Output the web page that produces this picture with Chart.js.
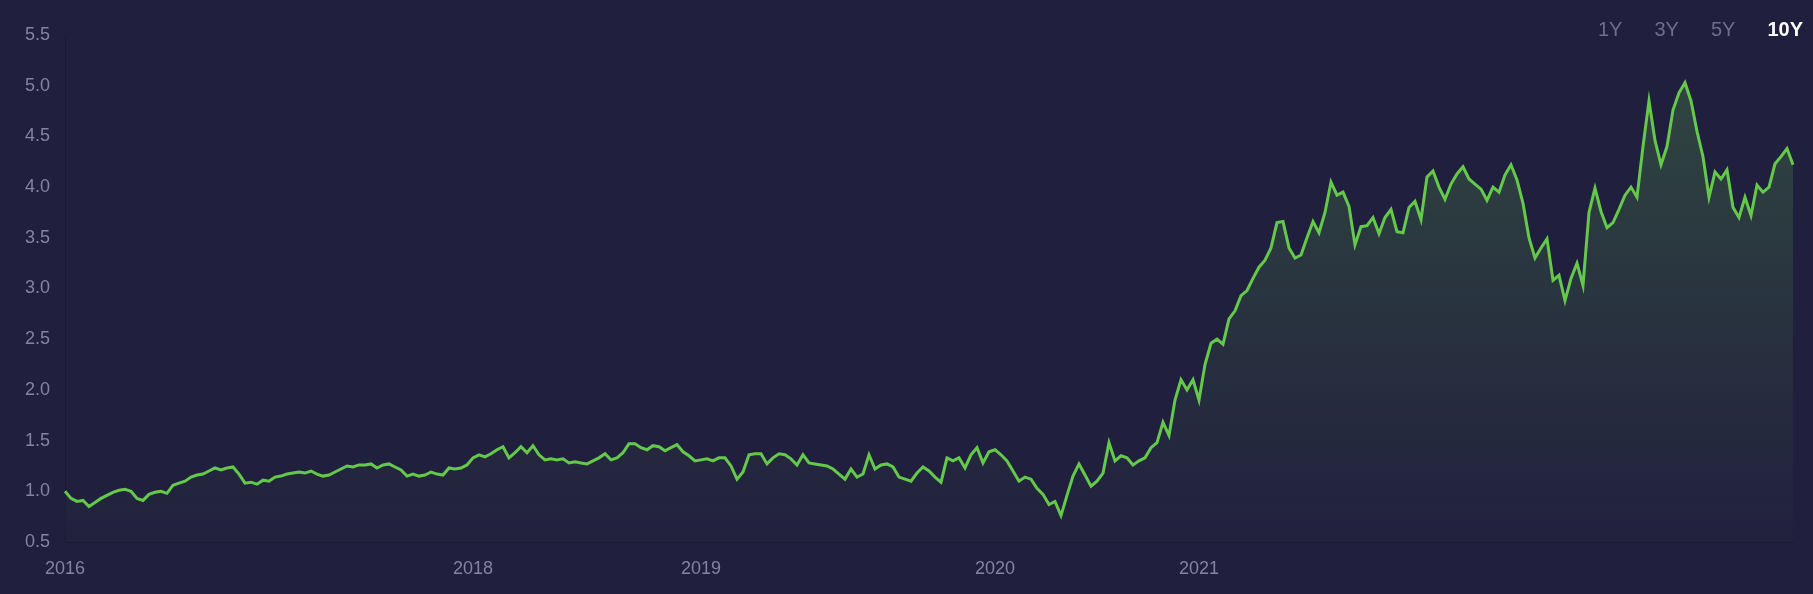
<!DOCTYPE html>
<html>
<head>
<meta charset="utf-8">
<script src="https://cdn.jsdelivr.net/npm/chart.js@4.4.1/dist/chart.umd.min.js"></script>
<style>
  html, body { margin: 0; padding: 0; background: #211f3e; }
  #wrap { position: relative; width: 1813px; height: 594px; }
  #range {
    position: absolute; top: 17px; right: 10px;
    display: flex; gap: 32px;
    font-family: "Liberation Sans", Arial, sans-serif; font-size: 20px; line-height: 24px;
    color: #6f6d8c;
  }
  #range .on { color: #ffffff; font-weight: bold; }
</style>
</head>
<body>
<div id="wrap">
  <canvas id="chart" width="1813" height="594"></canvas>
  <div id="range"><span>1Y</span><span>3Y</span><span>5Y</span><span class="on">10Y</span></div>
</div>
<script>
// Year tick labels and the data point where each one sits
const yearLabels = ['2016', '2018', '2019', '2020', '2021'];
const yearIndex = [0, 68, 106, 155, 189];

// Value series, oldest first
const values = [
  1.00, 0.93, 0.90, 0.91, 0.85, 0.89, 0.93, 0.96, 0.99, 1.01,
  1.02, 1.00, 0.93, 0.91, 0.97, 0.99, 1.00, 0.98, 1.06, 1.08,
  1.10, 1.14, 1.16, 1.17, 1.20, 1.23, 1.21, 1.23, 1.24, 1.17,
  1.08, 1.09, 1.07, 1.11, 1.10, 1.14, 1.15, 1.17, 1.18, 1.19,
  1.18, 1.20, 1.17, 1.15, 1.16, 1.19, 1.22, 1.25, 1.24, 1.26,
  1.26, 1.27, 1.23, 1.26, 1.27, 1.24, 1.21, 1.15, 1.17, 1.15,
  1.16, 1.19, 1.17, 1.16, 1.23, 1.22, 1.23, 1.26, 1.33, 1.36,
  1.34, 1.37, 1.41, 1.44, 1.33, 1.38, 1.44, 1.38, 1.45, 1.36,
  1.31, 1.32, 1.31, 1.32, 1.28, 1.29, 1.28, 1.27, 1.30, 1.33,
  1.37, 1.31, 1.33, 1.38, 1.47, 1.47, 1.43, 1.41, 1.45, 1.44,
  1.40, 1.43, 1.46, 1.39, 1.35, 1.30, 1.31, 1.32, 1.30, 1.33,
  1.33, 1.25, 1.12, 1.19, 1.36, 1.37, 1.37, 1.27, 1.33, 1.37,
  1.36, 1.32, 1.26, 1.36, 1.28, 1.27, 1.26, 1.25, 1.22, 1.17,
  1.12, 1.22, 1.14, 1.17, 1.36, 1.22, 1.26, 1.27, 1.24, 1.14,
  1.12, 1.10, 1.18, 1.24, 1.20, 1.14, 1.09, 1.33, 1.30, 1.33,
  1.23, 1.36, 1.43, 1.28, 1.39, 1.41, 1.36, 1.30, 1.20, 1.10,
  1.14, 1.12, 1.03, 0.97, 0.87, 0.90, 0.76, 0.96, 1.15, 1.27,
  1.16, 1.05, 1.10, 1.18, 1.48, 1.30, 1.35, 1.33, 1.26, 1.30,
  1.33, 1.43, 1.48, 1.68, 1.55, 1.90, 2.10, 2.00, 2.10, 1.90,
  2.25, 2.46, 2.50, 2.45, 2.70, 2.78, 2.93, 2.98, 3.10, 3.21,
  3.28, 3.40, 3.65, 3.66, 3.40, 3.30, 3.33, 3.50, 3.66, 3.55,
  3.75, 4.05, 3.92, 3.95, 3.81, 3.43, 3.61, 3.62, 3.70, 3.54,
  3.70, 3.78, 3.56, 3.55, 3.80, 3.86, 3.68, 4.10, 4.16, 4.00,
  3.88, 4.03, 4.13, 4.20, 4.08, 4.03, 3.98, 3.87, 4.00, 3.95,
  4.12, 4.22, 4.07, 3.84, 3.50, 3.30, 3.40, 3.49, 3.08, 3.13,
  2.88, 3.10, 3.25, 3.03, 3.75, 3.99, 3.76, 3.60, 3.65, 3.78,
  3.92, 4.00, 3.90, 4.40, 4.85, 4.46, 4.22, 4.40, 4.76, 4.93,
  5.03, 4.85, 4.55, 4.30, 3.90, 4.15, 4.08, 4.17, 3.80, 3.70,
  3.90, 3.72, 4.02, 3.95, 4.00, 4.23, 4.30, 4.38, 4.22
];

const labels = values.map((_, i) => {
  const k = yearIndex.indexOf(i);
  return k >= 0 ? yearLabels[k] : '';
});

const tickFont = { family: '"Liberation Sans", Arial, sans-serif', size: 18 };
const tickColor = '#85839f';
const axisColor = '#1a1833';

const ctx = document.getElementById('chart').getContext('2d');
new Chart(ctx, {
  type: 'line',
  data: {
    labels: labels,
    datasets: [{
      data: values,
      borderColor: '#64c94b',
      borderWidth: 3,
      pointRadius: 0,
      tension: 0,
      fill: 'start',
      backgroundColor: (c) => {
        const area = c.chart.chartArea;
        if (!area) return 'rgba(98,199,74,0.1)';
        const g = c.chart.ctx.createLinearGradient(0, area.top, 0, area.bottom);
        g.addColorStop(0, 'rgba(98,199,74,0.25)');
        g.addColorStop(1, 'rgba(98,199,74,0.01)');
        return g;
      }
    }]
  },
  options: {
    responsive: false,
    animation: false,
    layout: { padding: { top: 35, right: 20, left: 0, bottom: 0 } },
    plugins: { legend: { display: false }, tooltip: { enabled: false } },
    scales: {
      x: {
        grid: { display: false, drawTicks: false },
        border: { display: true, color: axisColor },
        ticks: {
          autoSkip: false, maxRotation: 0, padding: 16,
          color: tickColor, font: tickFont,
          callback: function (v, i) { return labels[i] || null; }
        },
        afterFit: (axis) => { axis.height = 52; }
      },
      y: {
        min: 0.5, max: 5.5,
        grid: { display: false, drawTicks: false },
        border: { display: true, color: axisColor },
        ticks: {
          stepSize: 0.5, padding: 15,
          color: tickColor, font: tickFont,
          callback: (v) => v.toFixed(1)
        },
        afterFit: (axis) => { axis.width = 65; }
      }
    }
  }
});
</script>
</body>
</html>
